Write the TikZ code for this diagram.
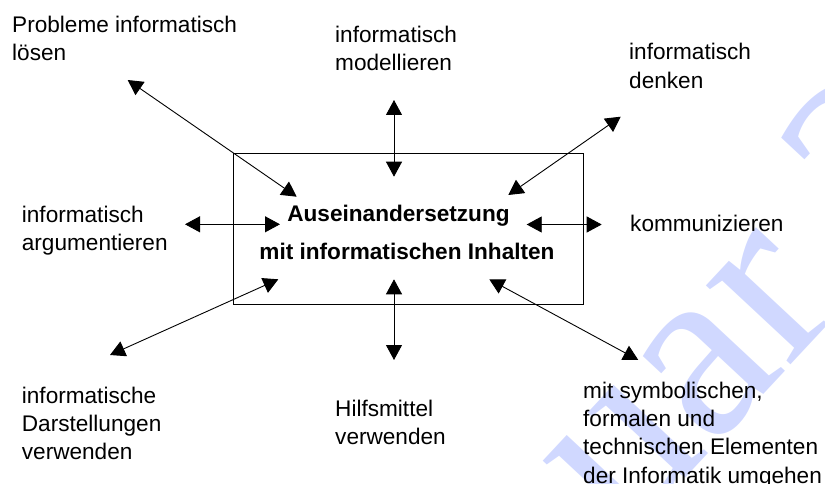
\documentclass[tikz,border=0pt]{standalone}
\usepackage{fontspec}
\setmainfont{Liberation Sans}
\newfontfamily\wmfont{Liberation Serif}
\usetikzlibrary{arrows.meta}
\definecolor{wmblue}{RGB}{208,216,255}
\begin{document}
\begin{tikzpicture}[x=1pt,y=-1pt,
  lbl/.style={font=\fontsize{22.6}{28.3}\selectfont, align=left, anchor=base west, inner sep=0pt},
  ttl/.style={font=\fontsize{22.6}{28.3}\selectfont\bfseries, anchor=base, inner sep=0pt},
  dbl/.style={{Triangle[length=15pt,width=16pt]}-{Triangle[length=15pt,width=16pt]}, line width=0.9pt},
  wm/.style={font=\fontsize{252}{252}\selectfont\wmfont, text=wmblue, rotate=47, inner sep=0pt}]
\useasboundingbox (0,0) rectangle (825,484);
\clip (0,0) rectangle (825,484);
% watermark
\node[wm, anchor=base east] (wm1) at (845,307) {Januar};
\node[wm, anchor=base west] (wm2) at (845,307) {\ 2008};
% central box
\draw[line width=0.9pt] (233,153) rectangle (583,304);
\node[ttl] (t1) at (398.5,222) {Auseinandersetzung};
\node[ttl] (t2) at (407,259) {mit informatischen Inhalten};
% labels (anchor = baseline of the last line)
\node[lbl] (l1) at (12,60.5) {Probleme informatisch\\lösen};
\node[lbl] (l2) at (335,70.6) {informatisch\\modellieren};
\node[lbl] (l3) at (629,88.3) {informatisch\\denken};
\node[lbl] (l4) at (21.7,250.8) {informatisch\\argumentieren};
\node[lbl] (l5) at (630,231.7) {kommunizieren};
\node[lbl] (l6) at (21.7,459.9) {informatische\\Darstellungen\\verwenden};
\node[lbl] (l7) at (335,444.3) {Hilfsmittel\\verwenden};
\node[lbl] (l8) at (583,483.2) {mit symbolischen,\\formalen und\\technischen Elementen\\der Informatik umgehen};
% arrow ends
\coordinate (a1o) at (127.7,80);   \coordinate (a1i) at (296.7,196.7);
\coordinate (a2o) at (394,100);    \coordinate (a2i) at (394,176.7);
\coordinate (a3o) at (620.7,116.7);\coordinate (a3i) at (508.3,195);
\coordinate (a4o) at (185,224.3);  \coordinate (a4i) at (280,224.3);
\coordinate (a5o) at (601.7,224.5);\coordinate (a5i) at (526.7,224.5);
\coordinate (a6o) at (110,355);    \coordinate (a6i) at (278.3,279.3);
\coordinate (a7o) at (394,360);    \coordinate (a7i) at (394,279.3);
\coordinate (a8o) at (638.3,360);  \coordinate (a8i) at (489.3,279.3);
\foreach \i in {1,...,8} \draw[dbl] (a\i o) -- (a\i i);
\end{tikzpicture}
\end{document}
